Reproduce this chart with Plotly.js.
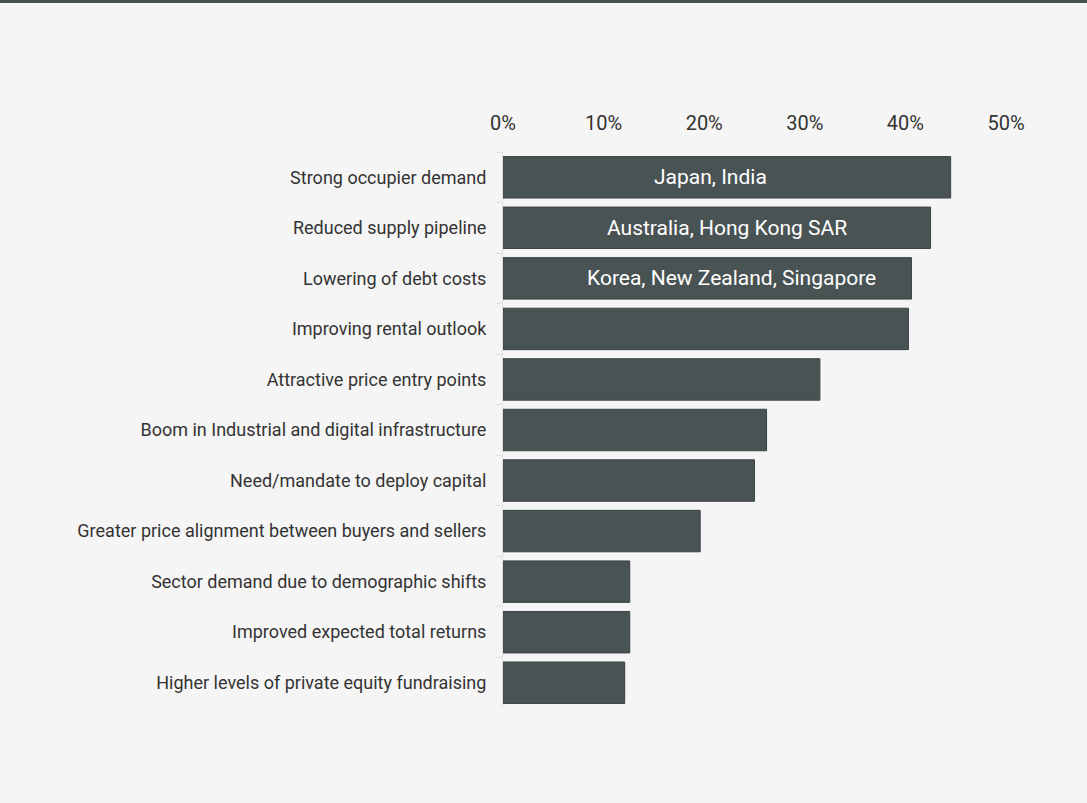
<!DOCTYPE html>
<html>
<head>
<meta charset="utf-8">
<script src="https://cdn.plot.ly/plotly-3.0.1.min.js"></script>
<style>
html,body{margin:0;padding:0;background:#f5f5f5;}
#chart{width:1087px;height:800px;border-top:3px solid #465052;}
</style>
</head>
<body>
<div id="chart"></div>
<script>
const categories = [
  "Strong occupier demand",
  "Reduced supply pipeline",
  "Lowering of debt costs",
  "Improving rental outlook",
  "Attractive price entry points",
  "Boom in Industrial and digital infrastructure",
  "Need/mandate to deploy capital",
  "Greater price alignment between buyers and sellers",
  "Sector demand due to demographic shifts",
  "Improved expected total returns",
  "Higher levels of private equity fundraising"
];
const values = [44.5, 42.5, 40.6, 40.3, 31.5, 26.2, 25.0, 19.6, 12.6, 12.6, 12.1];
const barLabels = ["Japan, India", "Australia, Hong Kong SAR", "Korea, New Zealand, Singapore"];
const barLabelPos = [20.6, 22.3, 22.7];
const tickVals = [0, 10, 20, 30, 40, 50];
const tickText = ["0%", "10%", "20%", "30%", "40%", "50%"];

const annotations = barLabels.map((t, i) => ({
  x: barLabelPos[i], y: categories[i], xref: 'x', yref: 'y',
  text: t, showarrow: false,
  font: {family: 'Roboto, sans-serif', size: 21, color: '#ffffff'}
}));

Plotly.newPlot('chart', [{
  type: 'bar',
  orientation: 'h',
  y: categories,
  x: values,
  marker: {color: '#4a5354', line: {color: '#3a4345', width: 1}},
  hoverinfo: 'none'
}], {
  width: 1087, height: 800,
  paper_bgcolor: '#f5f5f5', plot_bgcolor: '#f5f5f5',
  margin: {l: 503, r: 81, t: 149, b: 95},
  bargap: 0.18,
  showlegend: false,
  font: {family: 'Roboto, sans-serif', color: '#333'},
  xaxis: {
    side: 'top', range: [0, 50], tickvals: tickVals, ticktext: tickText,
    showgrid: false, zeroline: false, showline: false,
    ticks: 'outside', ticklen: 13, tickcolor: 'rgba(0,0,0,0)',
    tickfont: {family: 'Roboto, sans-serif', size: 20, color: '#333'}
  },
  yaxis: {
    autorange: 'reversed', type: 'category',
    showgrid: false, zeroline: false,
    showline: true, linecolor: '#e2e2e2', linewidth: 1,
    ticks: 'outside', tickson: 'boundaries', ticklen: 6, tickcolor: '#e2e2e2',
    ticklabelstandoff: 12,
    tickfont: {family: 'Roboto, sans-serif', size: 18, color: '#333'}
  },
  annotations: annotations
}, {displayModeBar: false, staticPlot: true});
</script>
</body>
</html>
